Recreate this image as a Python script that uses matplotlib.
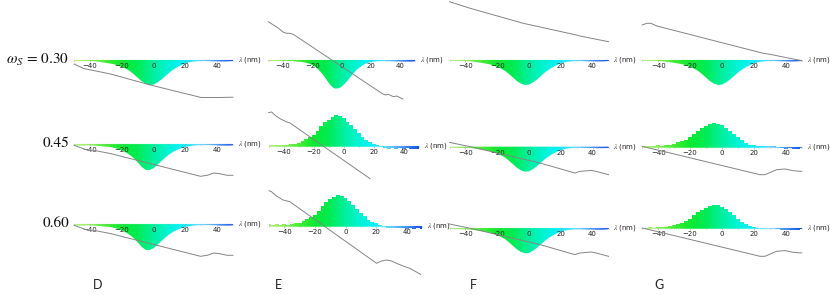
import numpy as np
import matplotlib
matplotlib.use("Agg")
import matplotlib.pyplot as plt
from matplotlib.colors import LinearSegmentedColormap
from matplotlib.collections import LineCollection
from matplotlib.path import Path

# ---------------- data ----------------
row_labels = [r"$\omega_S$ = 0.30", "0.45", "0.60"]
col_labels = ["D", "E", "F", "G"]
tick_vals = [-40, -20, 0, 20, 40]
x_label = r"$\lambda$ (nm)"

lam = np.arange(-50, 51, 2.5)  # wavelength sampling grid (nm), 41 points

# spectral amplitude (a.u.)
dip_a = [-0.02, -0.025, -0.025, -0.03, -0.03, -0.04, -0.05, -0.07, -0.09, -0.11,
         -0.13, -0.17, -0.22, -0.27, -0.34, -0.44, -0.55, -0.66, -0.74, -0.78,
         -0.77, -0.70, -0.61, -0.50, -0.39, -0.30, -0.22, -0.16, -0.11, -0.07,
         -0.05, -0.04, -0.03, -0.03, -0.035, -0.04, -0.04, -0.045, -0.045, -0.04,
         -0.03]
dip_b = [-0.03, -0.04, -0.04, -0.035, -0.03, -0.04, -0.05, -0.06, -0.07, -0.08,
         -0.11, -0.14, -0.19, -0.25, -0.33, -0.43, -0.56, -0.70, -0.80, -0.80,
         -0.75, -0.64, -0.52, -0.41, -0.31, -0.23, -0.17, -0.12, -0.08, -0.06,
         -0.04, -0.03, -0.025, -0.02, -0.02, -0.025, -0.03, -0.04, -0.04, -0.04,
         -0.03]
dip_e = [-0.025, -0.03, -0.03, -0.03, -0.03, -0.03, -0.03, -0.04, -0.05, -0.06,
         -0.08, -0.11, -0.16, -0.23, -0.34, -0.48, -0.64, -0.80, -0.89, -0.89,
         -0.83, -0.72, -0.58, -0.44, -0.31, -0.22, -0.14, -0.09, -0.06, -0.045,
         -0.035, -0.035, -0.035, -0.04, -0.04, -0.045, -0.045, -0.05, -0.05, -0.05,
         -0.04]
peak_e = [0.05, 0.04, 0.05, 0.04, 0.055, 0.045, 0.07, 0.08, 0.10, 0.16,
          0.22, 0.28, 0.34, 0.47, 0.62, 0.75, 0.83, 0.92, 0.98, 0.95,
          0.89, 0.77, 0.66, 0.53, 0.42, 0.30, 0.20, 0.14, 0.08, 0.04,
          0.01, -0.05, -0.07, -0.05, -0.075, -0.055, -0.08, -0.06, -0.08, -0.07,
          -0.08]
peak_g = [0.025, 0.02, 0.03, 0.025, 0.04, 0.03, 0.05, 0.06, 0.10, 0.14,
          0.18, 0.22, 0.30, 0.41, 0.50, 0.58, 0.64, 0.70, 0.73, 0.72,
          0.67, 0.59, 0.50, 0.41, 0.30, 0.20, 0.12, 0.06, 0.04, 0.025,
          0.02, 0.015, 0.012, 0.01, -0.015, -0.055, -0.06, -0.055, -0.065, -0.06,
          -0.01]

# spectral phase (rad): wavelength points and values
ph_D1_l = [-50, -44, -27, -2, 30, 42, 50]
ph_D1_v = [-0.4, -0.85, -1.4, -2.5, -3.75, -3.75, -3.72]
ph_E1_l = [-50, -43, -39.7, -37.4, -35.2, -33, 27.2, 29.5, 31.7, 35.1, 37.4, 41.5]
ph_E1_v = [3.83, 3.17, 2.77, 2.67, 2.67, 2.57, -3.33, -3.5, -3.43, -3.67, -3.6, -3.9]
ph_F1_l = [-50, -37, -3.6, 29.8, 32, 50]
ph_F1_v = [5.83, 5.17, 3.67, 2.5, 2.4, 1.83]
ph_G1_l = [-50, -47, -44.6, -40.8, 25.8, 30, 50]
ph_G1_v = [3.5, 3.67, 3.67, 3.4, 0.67, 0.57, -0.07]
ph_D2_l = [-50, -41.3, -35.4, -27, 29.6, 33.8, 38, 41.3, 46.4, 50]
ph_D2_v = [-0.1, -0.6, -0.67, -0.93, -3.2, -3.1, -2.87, -2.93, -3.1, -3.1]
ph_E2_l = [-50, -48, -45.8, -42.5, -40.3, -38, -35.8, 17.5]
ph_E2_v = [3.37, 3.43, 3.1, 2.77, 2.6, 2.43, 2.33, -3.23]
ph_E3_l = [-50, -48.4, -45.1, -40.8, -36.4, 20.3, 23.5, 26.8, 30.1, 33.3, 37.6, 42, 49]
ph_E3_v = [3.53, 3.43, 3.0, 2.6, 2.43, -3.73, -3.5, -3.4, -3.5, -3.73, -4.0, -4.23, -4.83]
ph_F2_l = [-50, -34.8, -30.6, 6.9, 28.8, 31.9, 39.2, 42.3, 50]
ph_F2_v = [0.43, -0.07, -0.23, -1.63, -2.63, -2.47, -2.37, -2.47, -2.8]
ph_G2_l = [-50, -36.7, 23.8, 26.9, 34.2, 39.4, 44.6, 50]
ph_G2_v = [0.03, -0.47, -2.8, -2.8, -2.3, -2.23, -2.4, -2.47]

panels = [
    [(dip_a, False, ph_D1_l, ph_D1_v), (dip_e, False, ph_E1_l, ph_E1_v),
     (dip_a, False, ph_F1_l, ph_F1_v), (dip_a, False, ph_G1_l, ph_G1_v)],
    [(dip_b, False, ph_D2_l, ph_D2_v), (peak_e, True, ph_E2_l, ph_E2_v),
     (dip_a, False, ph_F2_l, ph_F2_v), (peak_g, True, ph_G2_l, ph_G2_v)],
    [(dip_b, False, ph_D2_l, ph_D2_v), (peak_e, True, ph_E3_l, ph_E3_v),
     (dip_a, False, ph_F2_l, ph_F2_v), (peak_g, True, ph_G2_l, ph_G2_v)],
]

# ---------------- layout (pixels) ----------------
W, H = 830, 295
geom = [
    [(74.1, 232.9, 60), (268.3, 415.3, 60), (449.5, 608.5, 60), (642.2, 801.8, 60)],
    [(74.1, 232.9, 144.3), (268.7, 418.7, 146.3), (449.5, 608.5, 146.7), (642.2, 801.8, 146.7)],
    [(74.1, 232.9, 224.3), (269.0, 422.0, 226.0), (449.5, 608.5, 228.3), (642.2, 801.8, 228.3)],
]
PX_AMP = 32.0
PX_PH = 10.0
HALF = 45.0

cmap = LinearSegmentedColormap.from_list("spec", [
    (0.00, "#b4f07c"), (0.10, "#86ee58"), (0.20, "#44ec34"), (0.30, "#0aea30"),
    (0.40, "#00ec55"), (0.50, "#00f0a0"), (0.60, "#00f4d8"), (0.70, "#10eeff"),
    (0.80, "#66d4ff"), (0.90, "#4090f8"), (1.00, "#1452e6")])

plt.rcParams["mathtext.fontset"] = "stix"
fig = plt.figure(figsize=(W / 100, H / 100), dpi=100)


def draw_panel(rect, amp, stepped, phl, phv):
    ax = fig.add_axes(rect)
    ax.set_facecolor("none")
    poly = ax.fill_between(lam, 0, amp, step="mid" if stepped else None,
                           facecolor="none", edgecolor="none")
    clip = Path.make_compound_path(*poly.get_paths())
    grad = np.linspace(0, 1, 256)[None, :]
    im = ax.imshow(grad, extent=[-50, 50, -2, 2], aspect="auto", cmap=cmap,
                   origin="lower", interpolation="bilinear", zorder=0.5)
    im.set_clip_path(clip, transform=ax.transData)
    xs = np.linspace(-50, 50, 200)
    segs = [[(xs[i], 0), (xs[i + 1], 0)] for i in range(len(xs) - 1)]
    lc = LineCollection(segs, colors=cmap((xs[:-1] + 50) / 100), linewidths=0.8, zorder=0.8)
    ax.add_collection(lc)
    ax.set_xlim(-50, 50)
    ax.set_ylim(-HALF / PX_AMP, HALF / PX_AMP)
    for s in ax.spines.values():
        s.set_visible(False)
    ax.spines["bottom"].set_position(("data", 0))
    ax.set_yticks([])
    ax.set_xticks(tick_vals)
    ax.set_xticks(np.arange(-50, 51, 10), minor=True)
    ax.tick_params(axis="x", which="both", direction="out", length=1.5, width=0.4,
                   color="#999999", pad=0.8, labelsize=5, labelcolor="#222222")
    ax.tick_params(axis="x", which="minor", length=1.0)
    ax.annotate(x_label, xy=(50, 0), xycoords="data", xytext=(3.5, 0),
                textcoords="offset points", fontsize=5, va="center", ha="left",
                color="#222222", annotation_clip=False)
    ax2 = fig.add_axes(rect, sharex=ax)
    ax2.set_facecolor("none")
    ax2.axis("off")
    ax2.plot(phl, phv, color="#858585", lw=0.7, clip_on=False)
    ax2.set_ylim(-HALF / PX_PH, HALF / PX_PH)
    ax2.set_xlim(-50, 50)


for r in range(3):
    for c in range(4):
        xl, xr, ya = geom[r][c]
        rect = [xl / W, (H - (ya + HALF)) / H, (xr - xl) / W, 2 * HALF / H]
        amp, stepped, phl, phv = panels[r][c]
        draw_panel(rect, amp, stepped, phl, phv)

row_y = [59.5, 143.8, 223.8]
for r in range(3):
    fig.text(69 / W, 1 - row_y[r] / H, row_labels[r], ha="right", va="center",
             fontsize=11, family="STIXGeneral", color="#111111")

col_x = [98, 278, 473, 659]
for c in range(4):
    fig.text(col_x[c] / W, 1 - 285 / H, col_labels[c], ha="center", va="center",
             fontsize=9, family="Lato", color="#222222")

fig.savefig("out.png", dpi=100)
